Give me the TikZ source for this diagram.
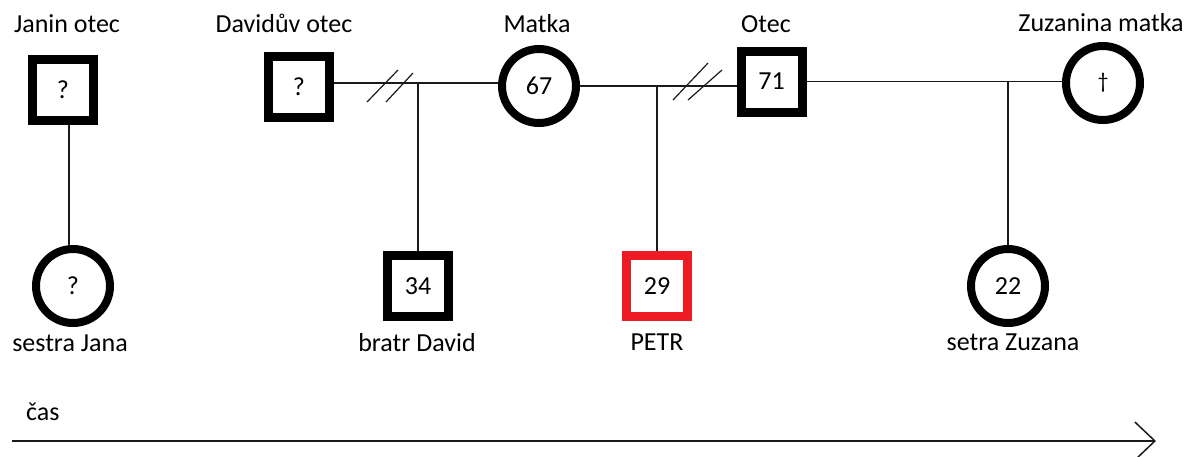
\documentclass[tikz,border=0pt]{standalone}
\usepackage{fontspec}
\setmainfont{Carlito}
\usetikzlibrary{arrows.meta}
\definecolor{paintred}{HTML}{ED1C24}
\definecolor{lineink}{HTML}{1A1A1A}
\begin{document}
\begin{tikzpicture}[x=1pt,y=-1pt,
  every node/.style={font=\fontsize{26}{31}\selectfont, text=black},
  male/.style={draw=black, rectangle, line width=9pt, minimum width=61pt, minimum height=61pt, inner sep=0pt},
  female/.style={draw=black, circle, line width=8pt, minimum size=74pt, inner sep=0pt},
  proband/.style={male, draw=paintred},
  personlabel/.style={anchor=base, inner sep=0pt},
  link/.style={draw=lineink, line width=1.5pt},
  divorce/.style={draw=lineink, line width=1.2pt}]
\useasboundingbox (0,0) rectangle (1200,456);

% people
\node[male]   (janafather) at (63,89.5) {?};
\node[female] (jana)       at (73,286)  {?};
\node[male]   (davidfather) at (299,87) {?};
\node[female] (mother)     at (539,86)  {67};
\node[male]   (father)     at (771.5,81.5) {71};
\node[female] (zuzanamother) at (1103,83) {\fontsize{22}{26}\selectfont †};
\node[male]   (david)      at (418,286) {34};
\node[proband] (petr)      at (657,286) {29};
\node[female] (zuzana)     at (1008,286) {22};

% names
\node[personlabel] (l-janafather)   at (67,32)   {Janin otec};
\node[personlabel] (l-davidfather)  at (284,32)  {Davidův otec};
\node[personlabel] (l-mother)       at (537,32)  {Matka};
\node[personlabel] (l-father)       at (766,32)  {Otec};
\node[personlabel] (l-zuzanamother) at (1101,31) {Zuzanina matka};
\node[personlabel] (l-jana)         at (70,351)  {sestra Jana};
\node[personlabel] (l-david)        at (417,351) {bratr David};
\node[personlabel] (l-petr)         at (657,350) {PETR};
\node[personlabel] (l-zuzana)       at (1013,350) {setra Zuzana};

% couples and children
\draw[link] ([xshift=6pt]janafather.south) -- ([xshift=6pt]janafather.south |- jana.north);

\coordinate (c1) at ([yshift=4pt]davidfather.east);
\draw[link] (c1) -- (c1 -| mother.west);
\draw[link] (c1 -| david.north) -- (david.north);
\draw[divorce] (367,102) -- (398,70);
\draw[divorce] (386,102) -- (413,73);

\coordinate (c2) at (mother.east);
\draw[link] (c2) -- (c2 -| father.west);
\draw[link] (c2 -| petr.north) -- (petr.north);
\draw[divorce] (673,100) -- (708,63);
\draw[divorce] (688,100) -- (722,70);

\coordinate (c3) at (father.east);
\draw[link] (c3) -- (c3 -| zuzanamother.west);
\draw[link] (c3 -| zuzana.north) -- (zuzana.north);

% time axis
\coordinate (t0) at (12,441);
\coordinate (t1) at (1156,441);
\draw[link, -{Straight Barb[length=20pt,width=38pt,line width=1.5pt]}] (t0) -- (t1);
\node[anchor=base west, inner sep=0pt] (time) at (26,420) {čas};
\end{tikzpicture}
\end{document}
